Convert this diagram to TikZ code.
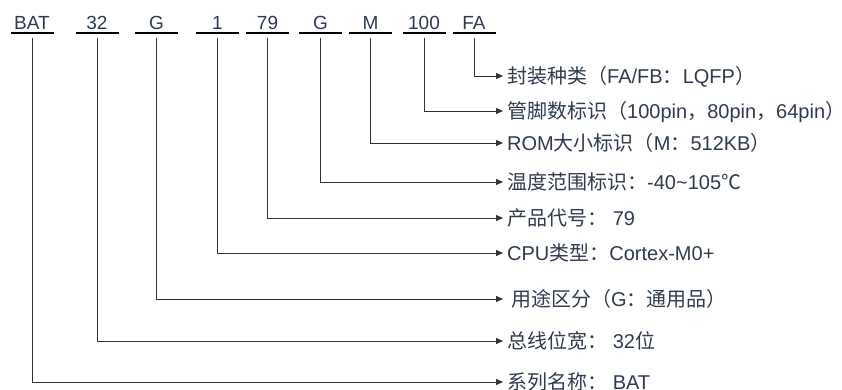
\documentclass[tikz,border=0pt]{standalone}
\usepackage{fontspec}
\setmainfont{Liberation Sans}
\newfontfamily\cjkfont{Noto Sans CJK SC}
\newcommand{\cj}[1]{{\cjkfont #1}}
\usetikzlibrary{arrows.meta}
\definecolor{txt}{HTML}{2E3B4E}
\definecolor{ln}{HTML}{333333}
\tikzset{
  toplab/.style={anchor=base,inner sep=0pt,text=txt,font=\fontsize{19}{21}\selectfont},
  rlab/.style={anchor=west,inner sep=4pt,text=txt,text height=16.2pt,text depth=1pt,font=\fontsize{20}{22}\selectfont},
  uline/.style={line width=1.6pt,black},
  conn/.style={line width=0.9pt,ln,-{Triangle[length=7pt,width=6pt]}}
}
\begin{document}
\begin{tikzpicture}[x=1pt,y=-1pt]
\useasboundingbox (0,0) rectangle (842,390);
% top labels
\node[toplab] (t1) at (32,30) {BAT};
\node[toplab] (t2) at (97,30) {32};
\node[toplab] (t3) at (156.5,30) {G};
\node[toplab] (t4) at (217.5,30) {1};
\node[toplab] (t5) at (267.5,30) {79};
\node[toplab] (t6) at (320.5,30) {G};
\node[toplab] (t7) at (370.5,30) {M};
\node[toplab] (t8) at (424,30) {100};
\node[toplab] (t9) at (474,30) {FA};
\foreach \t in {t1,t2,t3,t4,t5,t6,t7,t8,t9}{
  \draw[uline] ([xshift=-21.5pt,yshift=-3pt]\t.base) -- ([xshift=21.5pt,yshift=-3pt]\t.base);
}
% right labels
\node[rlab] (r9) at (503,76) {\cj{封装种类（}FA/FB\cj{：}LQFP\cj{）}};
\node[rlab] (r8) at (503,111) {\cj{管脚数标识（}100pin\cj{，}80pin\cj{，}64pin\cj{）}};
\node[rlab] (r7) at (503,143) {ROM\cj{大小标识（}M\cj{：}512KB\cj{）}};
\node[rlab] (r6) at (503,182) {\cj{温度范围标识：}-40\textasciitilde105\cj{℃}};
\node[rlab] (r5) at (503,218) {\cj{产品代号：} 79};
\node[rlab] (r4) at (503,253) {CPU\cj{类型：}Cortex-M0+};
\node[rlab,inner xsep=8pt] (r3) at (503,299) {\cj{用途区分（}G\cj{：通用品）}};
\node[rlab] (r2) at (503,341) {\cj{总线位宽：} 32\cj{位}};
\node[rlab] (r1) at (503,382) {\cj{系列名称：} BAT};
% connectors
\draw[conn] ([yshift=-8pt]t1.base) |- (r1.west);
\draw[conn] ([yshift=-8pt]t2.base) |- (r2.west);
\draw[conn] ([yshift=-8pt]t3.base) |- (r3.west);
\draw[conn] ([yshift=-8pt]t4.base) |- (r4.west);
\draw[conn] ([yshift=-8pt]t5.base) |- (r5.west);
\draw[conn] ([yshift=-8pt]t6.base) |- (r6.west);
\draw[conn] ([yshift=-8pt]t7.base) |- (r7.west);
\draw[conn] ([yshift=-8pt]t8.base) |- (r8.west);
\draw[conn] ([yshift=-8pt]t9.base) |- (r9.west);
\end{tikzpicture}
\end{document}
